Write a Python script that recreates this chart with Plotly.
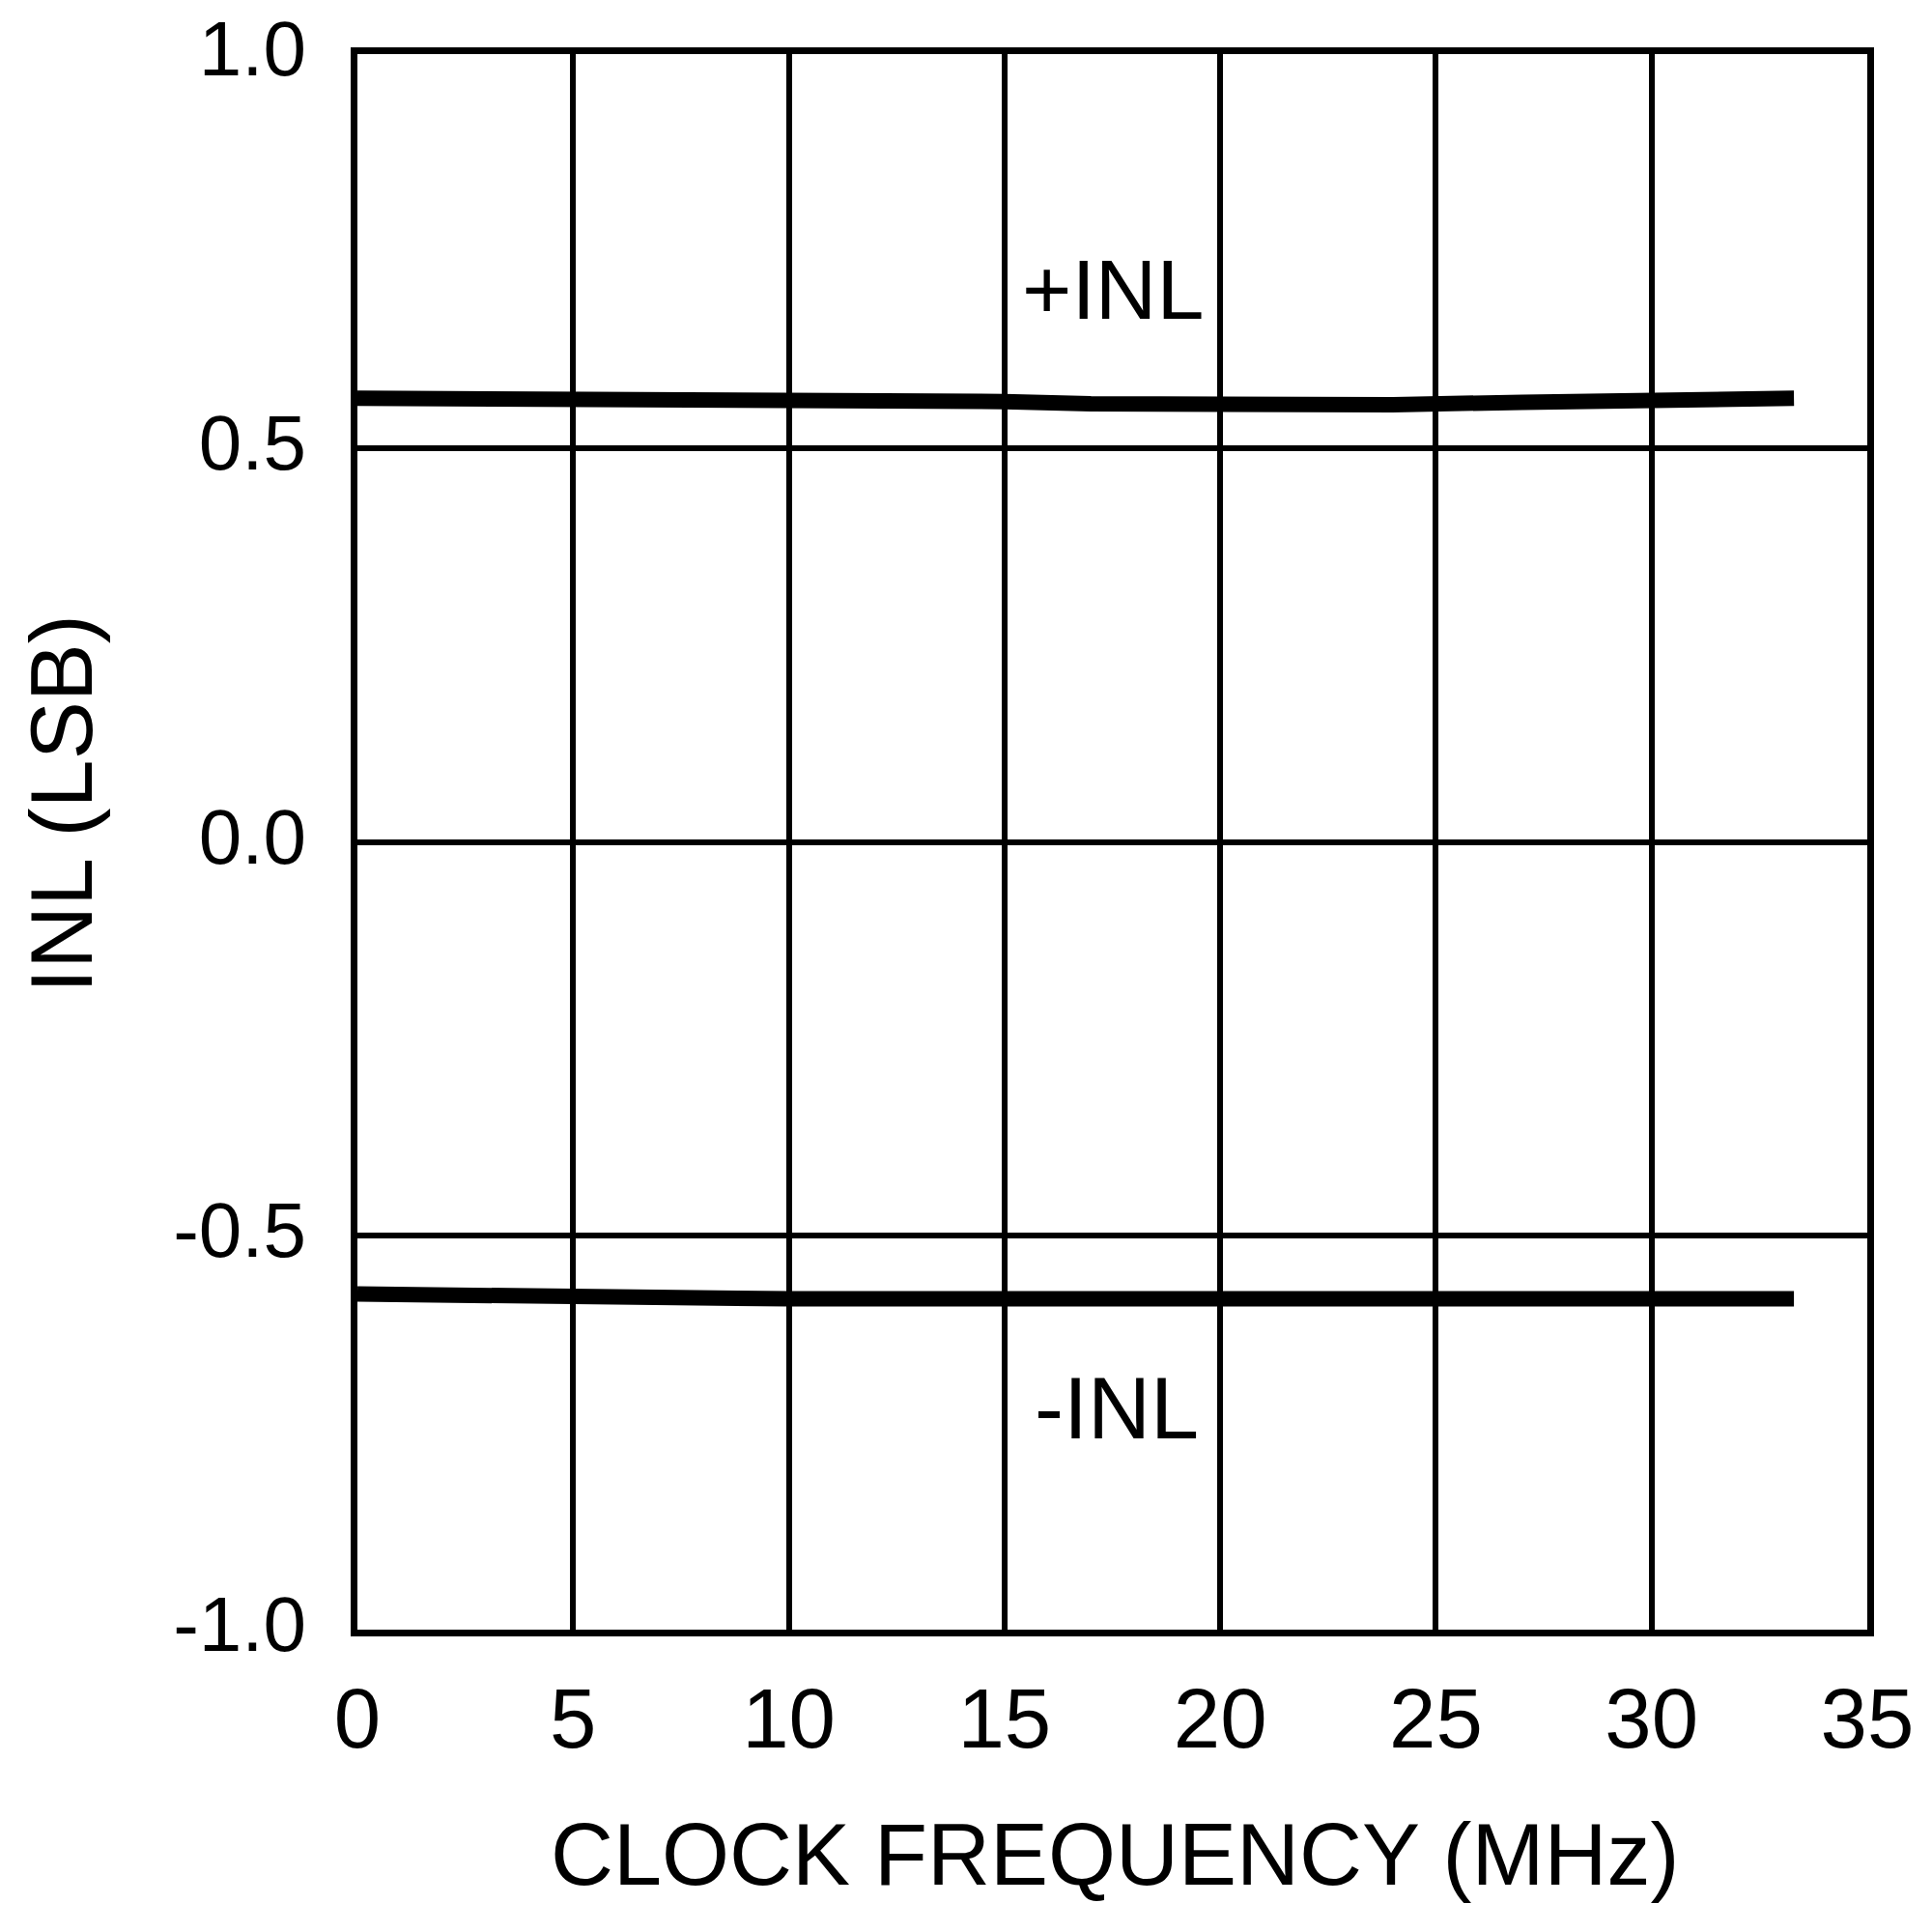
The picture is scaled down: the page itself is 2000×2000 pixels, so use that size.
import plotly.graph_objects as go

# Data
freq_pos = [0, 5, 10, 13, 15, 17, 20, 24, 27, 30, 33.3]
inl_pos = [0.563, 0.563, 0.563, 0.562, 0.559, 0.556, 0.555, 0.555, 0.558, 0.561, 0.563]

freq_neg = [0, 3, 5, 10, 15, 19, 25, 30, 33.3]
inl_neg = [-0.574, -0.577, -0.579, -0.580, -0.580, -0.581, -0.580, -0.580, -0.580]

x_ticks = [0, 5, 10, 15, 20, 25, 30, 35]
y_ticks = [-1.0, -0.5, 0.0, 0.5, 1.0]
y_tick_text = ["-1.0", "-0.5", "0.0", "0.5", "1.0"]

label_pos = "+INL"
label_neg = "-INL"
x_title = "CLOCK FREQUENCY (MHz)"
y_title = "INL (LSB)"

FONT = "Arial, Liberation Sans, sans-serif"

fig = go.Figure()
fig.add_trace(go.Scatter(x=freq_pos, y=inl_pos, mode="lines",
                         line=dict(color="black", width=16), showlegend=False))
fig.add_trace(go.Scatter(x=freq_neg, y=inl_neg, mode="lines",
                         line=dict(color="black", width=16), showlegend=False))

fig.update_layout(
    width=2000, height=2000,
    margin=dict(l=369.5, r=66.5, t=55.5, b=313),
    paper_bgcolor="white", plot_bgcolor="white",
    font=dict(family=FONT, color="black"),
)
fig.update_xaxes(
    range=[0, 35], tickvals=x_ticks, showgrid=True, gridcolor="black", gridwidth=6,
    showline=True, linecolor="black", linewidth=7, mirror=True, zeroline=False,
    automargin=False, ticklabeloverflow="allow",
    ticks="", ticklabelstandoff=11, tickfont=dict(size=87, family=FONT, color="black"),
)
fig.update_yaxes(
    range=[-1, 1], tickvals=y_ticks, ticktext=y_tick_text, showgrid=True,
    gridcolor="black", gridwidth=6, showline=True, linecolor="black", linewidth=7,
    mirror=True, zeroline=False, automargin=False, ticks="", ticklabelstandoff=30,
    ticklabelshift=-6, ticklabeloverflow="allow",
    tickfont=dict(size=80, family=FONT, color="black"),
)

fig.add_annotation(x=17.5, y=0.702, xref="x", yref="y", text=label_pos, showarrow=False,
                   font=dict(size=88, family=FONT, color="black"))
fig.add_annotation(x=17.59, y=-0.719, xref="x", yref="y", text=label_neg, showarrow=False,
                   font=dict(size=90, family=FONT, color="black"))
fig.add_annotation(x=0.5016, y=-0.1428, xref="paper", yref="paper", text=x_title,
                   showarrow=False, xanchor="center", yanchor="middle",
                   font=dict(size=90, family=FONT, color="black"))
fig.add_annotation(x=-0.1953, y=0.524, xref="paper", yref="paper", text=y_title,
                   showarrow=False, textangle=-90, xanchor="center", yanchor="middle",
                   font=dict(size=90, family=FONT, color="black"))

fig.write_html("out.html", config={"displayModeBar": False},
               post_script="document.body.style.margin='0';")
